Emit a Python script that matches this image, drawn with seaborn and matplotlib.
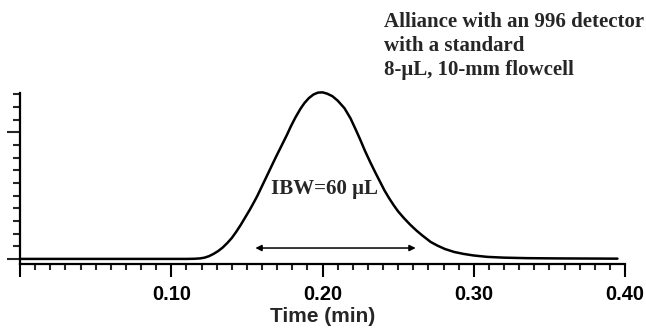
import numpy as np
import pandas as pd
import matplotlib
matplotlib.use("Agg")
import matplotlib.pyplot as plt
import seaborn as sns

# peak trace (time in min, detector signal in arbitrary units)
time_min = [0.000, 0.050, 0.100, 0.110, 0.115, 0.119, 0.122, 0.125, 0.128, 0.131,
            0.134, 0.137, 0.140, 0.143, 0.146, 0.149, 0.152, 0.155, 0.157, 0.160,
            0.163, 0.166, 0.169, 0.1715, 0.174, 0.1765, 0.179, 0.182, 0.1854, 0.188,
            0.191, 0.194, 0.197, 0.200, 0.203, 0.2065, 0.210, 0.2145, 0.2185, 0.222,
            0.225, 0.228, 0.2315, 0.235, 0.238, 0.241, 0.244, 0.247, 0.250, 0.254,
            0.258, 0.262, 0.266, 0.2715, 0.276, 0.281, 0.287, 0.293, 0.300, 0.309,
            0.320, 0.335, 0.355, 0.375, 0.395]
signal = [0.00, 0.00, 0.00, 0.00, 0.01, 0.04, 0.10, 0.22, 0.40, 0.62,
          0.90, 1.25, 1.65, 2.15, 2.70, 3.30, 3.90, 4.55, 5.00, 5.75,
          6.50, 7.25, 8.00, 8.60, 9.20, 9.80, 10.45, 11.15, 11.85, 12.30,
          12.70, 12.98, 13.13, 13.15, 13.05, 12.85, 12.50, 11.90, 11.10, 10.20,
          9.40, 8.55, 7.65, 6.80, 6.10, 5.40, 4.80, 4.25, 3.75, 3.20,
          2.70, 2.25, 1.85, 1.34, 1.05, 0.78, 0.55, 0.40, 0.27, 0.16,
          0.10, 0.06, 0.04, 0.03, 0.02]

x_major = [0.0, 0.10, 0.20, 0.30, 0.40]
x_labels = ["", "0.10", "0.20", "0.30", "0.40"]

# width band marked with the double arrow
ibw_start, ibw_end, ibw_level = 0.1556, 0.2616, 0.86
ibw_text = "IBW=60 \u03bcL"
note_text = "Alliance with an 996 detector\nwith a standard\n8-\u03bcL, 10-mm flowcell"

df = pd.DataFrame({"time": time_min, "signal": signal})

sns.set_style("ticks")
plt.rcParams["font.family"] = ["Liberation Sans", "DejaVu Sans"]

fig = plt.figure(figsize=(6.46, 3.35), dpi=100)
ax = fig.add_axes([0.031, 0.212, 0.9365, 0.5104])

sns.lineplot(data=df, x="time", y="signal", ax=ax, color="black",
             linewidth=1.8, clip_on=False, solid_joinstyle="round",
             solid_capstyle="round")

ax.set_xlim(0, 0.40)
ax.set_ylim(-0.4, 13.1)

ax.set_xticks(x_major)
ax.set_xticklabels(x_labels, fontsize=14.5, fontweight="bold")
ax.set_xticks(np.arange(0, 0.4001, 0.01), minor=True)
ax.set_yticks([0, 10])
ax.set_yticklabels([])
ax.set_yticks(np.arange(0, 14, 1), minor=True)

ax.tick_params(axis="x", which="major", direction="out", length=9, width=1.5,
               pad=6, colors="black")
ax.tick_params(axis="x", which="minor", direction="out", length=4.5, width=1.5)
ax.tick_params(axis="y", which="major", direction="out", length=9.5, width=1.5)
ax.tick_params(axis="y", which="minor", direction="out", length=5, width=1.5)

for side in ["top", "right"]:
    ax.spines[side].set_visible(False)
for side in ["left", "bottom"]:
    ax.spines[side].set_linewidth(1.6)
    ax.spines[side].set_color("black")

ax.set_xlabel("Time (min)", fontsize=15, fontweight="bold", labelpad=2)
ax.set_ylabel("")

ax.annotate("", xy=(ibw_start, ibw_level), xytext=(ibw_end, ibw_level),
            arrowprops=dict(arrowstyle="<|-|>", color="black", lw=1.1,
                            mutation_scale=9, shrinkA=0, shrinkB=0))
ax.text(0.2015, 5.5, ibw_text, ha="center", va="center", fontsize=15,
        fontweight="bold", family=["Liberation Serif", "DejaVu Serif"])

fig.text(384 / 646, 1 - 12 / 335, note_text, ha="left", va="top", fontsize=15,
         fontweight="bold", family=["Liberation Serif", "DejaVu Serif"],
         linespacing=1.28)

fig.savefig("out.png", dpi=100)
